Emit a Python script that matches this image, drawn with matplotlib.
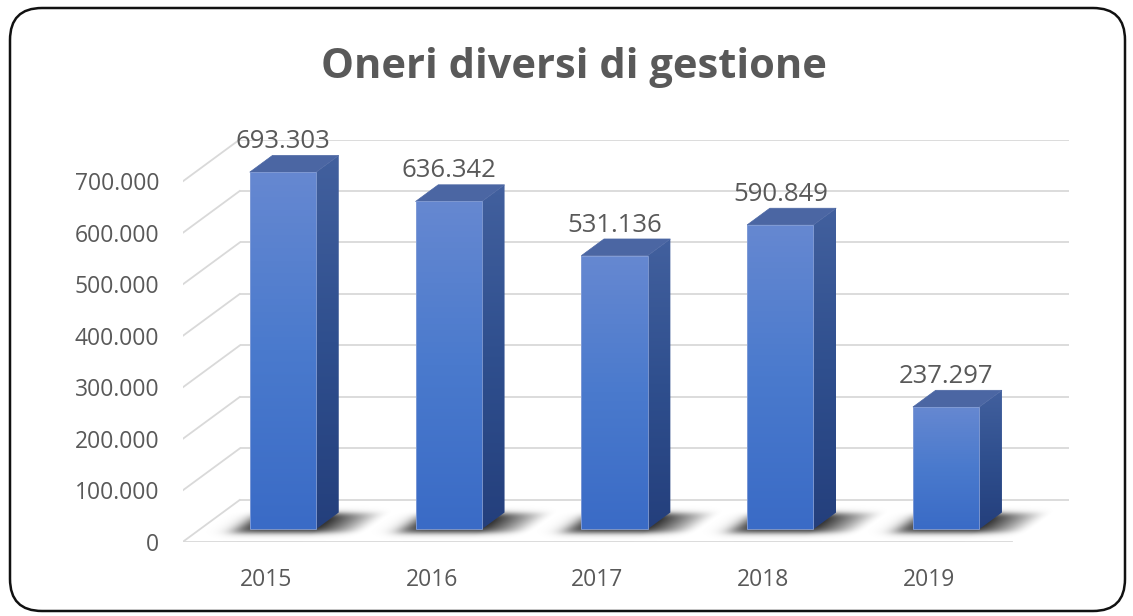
import numpy as np
import matplotlib
matplotlib.use("Agg")
import matplotlib.pyplot as plt
from matplotlib.colors import LinearSegmentedColormap
from matplotlib.patches import Polygon, FancyBboxPatch
from matplotlib.ticker import FuncFormatter

# ---- data ----
years = ["2015", "2016", "2017", "2018", "2019"]
values = [693303, 636342, 531136, 590849, 237297]
y_ticks = [0, 100000, 200000, 300000, 400000, 500000, 600000, 700000]
title = "Oneri diversi di gestione"

# ---- 3D-like oblique projection parameters (in data units) ----
DX = 0.342      # x shift for full floor depth (category units)
DY = 81000      # y shift for full floor depth (value units)
D_FRONT, D_BACK = 0.3, 0.7
BAR_W = 0.4
N = len(years)

TXT = "#595959"
plt.rcParams['font.family'] = ['Open Sans', 'DejaVu Sans']

fig = plt.figure(figsize=(11.33, 6.16), dpi=100)
W, H = 1133, 616
left_px, right_px, bot_px, top_px = 183, 1068.7, 541.7, 139.5
ax = fig.add_axes([left_px / W, (H - bot_px) / H, (right_px - left_px) / W, (bot_px - top_px) / H])
xmin, xmax = -0.5, N - 0.5 + DX
ymin, ymax = 0, max(y_ticks) + DY
ax.set_xlim(xmin, xmax)
ax.set_ylim(ymin, ymax)
for s in ax.spines.values():
    s.set_visible(False)
ax.set_facecolor("none")

# gridlines: back wall + left wall diagonals + floor front edge
gc = "#d9d9d9"
for v in y_ticks:
    ax.plot([xmin + DX, N - 0.5 + DX], [v + DY, v + DY], color=gc, lw=1.3, zorder=1, solid_capstyle='butt')
    ax.plot([xmin, xmin + DX], [v, v + DY], color=gc, lw=1.3, zorder=1)
ax.plot([xmin, N - 0.5], [0, 0], color=gc, lw=1.3, zorder=1)

# ---- shadows on floor (soft image) ----
nx, ny = 400, 120
gx = np.linspace(xmin, xmax, nx)
gy = np.linspace(0, DY * 1.05, ny)
GX, GY = np.meshgrid(gx, gy)
dd = GY / DY
UU = GX - dd * DX
alpha = np.zeros_like(GX)

def smooth(a, lo, hi, s):
    return 1 / (1 + np.exp(-(a - lo) / s)) * 1 / (1 + np.exp((a - hi) / s))

for i in range(N):
    u0 = i - BAR_W / 2 - 0.08
    u1 = i + BAR_W / 2 + 0.28
    m = smooth(UU, u0, u1, 0.035) * smooth(dd, D_FRONT - 0.08, D_BACK - 0.02, 0.04)
    fade = np.clip(1 - (UU - (i + BAR_W / 2)) / 0.32, 0, 1)
    fade = np.where(UU < i + BAR_W / 2, 1.0, fade)
    alpha = np.maximum(alpha, m * fade * 0.8)
rgba = np.zeros((ny, nx, 4))
rgba[..., 3] = alpha
ax.imshow(rgba, extent=[xmin, xmax, 0, DY * 1.05], origin='lower', aspect='auto',
          interpolation='bilinear', zorder=2)

front_cmap = LinearSegmentedColormap.from_list("f", ["#3a6bc6", "#4a7acd", "#6688d1"])
side_cmap = LinearSegmentedColormap.from_list("s", ["#243f7c", "#2f4f8e", "#42609e"])
top_color = "#4b66a3"
grad = np.linspace(0, 1, 256).reshape(-1, 1)

for i, v in enumerate(values):
    xl = i - BAR_W / 2 + D_FRONT * DX
    xr = i + BAR_W / 2 + D_FRONT * DX
    yb = D_FRONT * DY
    yt = v + D_FRONT * DY
    ddx = (D_BACK - D_FRONT) * DX
    ddy = (D_BACK - D_FRONT) * DY
    # front face
    bars = ax.bar([xl + BAR_W / 2], [v], width=BAR_W, bottom=yb, color="none",
                  edgecolor="#86a0d8", lw=0.6, zorder=4)
    im = ax.imshow(grad, extent=[xl, xr, yb, yt], origin='lower', aspect='auto',
                   cmap=front_cmap, zorder=3)
    im.set_clip_path(bars.patches[0])
    # side face
    side = Polygon([[xr, yb], [xr + ddx, yb + ddy], [xr + ddx, yt + ddy], [xr, yt]],
                   closed=True, facecolor="none", edgecolor="none", zorder=3)
    ax.add_patch(side)
    im2 = ax.imshow(grad, extent=[xr, xr + ddx, yb, yt + ddy], origin='lower', aspect='auto',
                    cmap=side_cmap, zorder=3)
    im2.set_clip_path(side)
    # top face
    top = Polygon([[xl, yt], [xr, yt], [xr + ddx, yt + ddy], [xl + ddx, yt + ddy]],
                  closed=True, facecolor=top_color, edgecolor=top_color, lw=0.5, zorder=3)
    ax.add_patch(top)
    # data label
    lbl = f"{v:,}".replace(",", ".")
    ax.annotate(lbl, xy=(xl + BAR_W / 2, v + D_BACK * DY), xytext=(0, 1), textcoords='offset points',
                ha='center', va='bottom', fontsize=18.5, color=TXT, zorder=5)

ax.set_xlim(xmin, xmax)
ax.set_ylim(ymin, ymax)

ax.set_xticks(range(N))
ax.set_xticklabels(years)
ax.set_yticks(y_ticks)
ax.yaxis.set_major_formatter(FuncFormatter(lambda v, p: f"{int(v):,}".replace(",", ".")))
ax.tick_params(axis='both', length=0, labelsize=16.5, labelcolor=TXT)
ax.tick_params(axis='y', pad=17)
ax.tick_params(axis='x', pad=19)

fig.text(574 / W, 1 - 67 / H, title, ha='center', va='center', fontsize=30,
         fontweight='bold', color=TXT)

# rounded border
border = FancyBboxPatch((0.10, 0.05), 11.15, 6.03,
                        boxstyle="round,pad=0,rounding_size=0.32",
                        transform=fig.dpi_scale_trans, facecolor="none",
                        edgecolor="#111111", lw=1.8, zorder=10)
fig.patches.append(border)

fig.savefig("out.png", dpi=100, facecolor="white")
